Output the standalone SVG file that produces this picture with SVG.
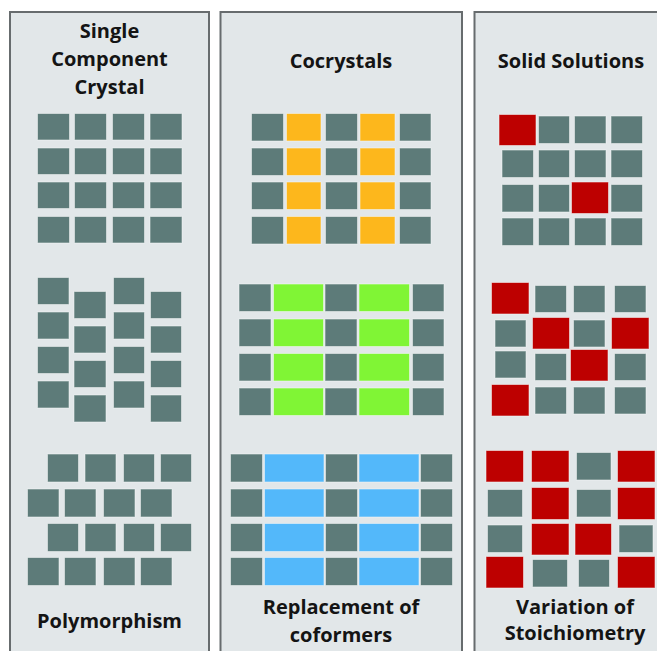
<svg xmlns="http://www.w3.org/2000/svg" width="657" height="651" viewBox="0 0 657 651">
  <style>
    .panel { fill: #e2e7e9; stroke: #676c6e; stroke-width: 2; }
    rect.c { stroke: #f3f5f5; stroke-opacity: 0.55; stroke-width: 1; }
    .g { fill: #5d7b79; }
    .y { fill: #fdb71c; }
    .gr { fill: #80f535; }
    .b { fill: #53b8fa; }
    .r { fill: #bd0000; stroke: #f0b0b0; }
    text { font-family: "Open Sans", "Liberation Sans", sans-serif; font-weight: bold; font-size: 20px; fill: #141414; text-anchor: middle; }
  </style>
  <rect width="657" height="651" fill="#ffffff"/>

  <!-- Single component crystal / polymorphism -->
  <g id="single-component">
    <rect class="panel" x="10" y="12" width="199" height="660"/>
    <text x="109.5" y="38">Single</text>
    <text x="109.5" y="66">Component</text>
    <text x="109.5" y="94">Crystal</text>
    <!-- regular lattice -->
    <g id="lattice-regular">
      <rect class="c g" x="37.5" y="113.5" width="32" height="26.5"/>
      <rect class="c g" x="74.5" y="113.5" width="32" height="26.5"/>
      <rect class="c g" x="112.5" y="113.5" width="32" height="26.5"/>
      <rect class="c g" x="150" y="113.5" width="32" height="26.5"/>
      <rect class="c g" x="37.5" y="148" width="32" height="26.5"/>
      <rect class="c g" x="74.5" y="148" width="32" height="26.5"/>
      <rect class="c g" x="112.5" y="148" width="32" height="26.5"/>
      <rect class="c g" x="150" y="148" width="32" height="26.5"/>
      <rect class="c g" x="37.5" y="182" width="32" height="26.5"/>
      <rect class="c g" x="74.5" y="182" width="32" height="26.5"/>
      <rect class="c g" x="112.5" y="182" width="32" height="26.5"/>
      <rect class="c g" x="150" y="182" width="32" height="26.5"/>
      <rect class="c g" x="37.5" y="216.5" width="32" height="26.5"/>
      <rect class="c g" x="74.5" y="216.5" width="32" height="26.5"/>
      <rect class="c g" x="112.5" y="216.5" width="32" height="26.5"/>
      <rect class="c g" x="150" y="216.5" width="32" height="26.5"/>
    </g>
    <!-- column-shifted lattice -->
    <g id="lattice-shifted-columns">
      <rect class="c g" x="37.5" y="277.5" width="31.5" height="27"/>
      <rect class="c g" x="37.5" y="312" width="31.5" height="27"/>
      <rect class="c g" x="37.5" y="346.5" width="31.5" height="27"/>
      <rect class="c g" x="37.5" y="381" width="31.5" height="27"/>
      <rect class="c g" x="74" y="291.5" width="32" height="27"/>
      <rect class="c g" x="74" y="326" width="32" height="27"/>
      <rect class="c g" x="74" y="360.5" width="32" height="27"/>
      <rect class="c g" x="74" y="395" width="32" height="27"/>
      <rect class="c g" x="113.5" y="277.5" width="31" height="27"/>
      <rect class="c g" x="113.5" y="312" width="31" height="27"/>
      <rect class="c g" x="113.5" y="346.5" width="31" height="27"/>
      <rect class="c g" x="113.5" y="381" width="31" height="27"/>
      <rect class="c g" x="150.5" y="291.5" width="31" height="27"/>
      <rect class="c g" x="150.5" y="326" width="31" height="27"/>
      <rect class="c g" x="150.5" y="360.5" width="31" height="27"/>
      <rect class="c g" x="150.5" y="395" width="31" height="27"/>
    </g>
    <!-- row-shifted lattice -->
    <g id="lattice-shifted-rows">
      <rect class="c g" x="47.5" y="454" width="31" height="28"/>
      <rect class="c g" x="85" y="454" width="31" height="28"/>
      <rect class="c g" x="123.5" y="454" width="31" height="28"/>
      <rect class="c g" x="160.5" y="454" width="31" height="28"/>
      <rect class="c g" x="27.5" y="489" width="31.5" height="28"/>
      <rect class="c g" x="64.5" y="489" width="31.5" height="28"/>
      <rect class="c g" x="103.5" y="489" width="31.5" height="28"/>
      <rect class="c g" x="140.5" y="489" width="31.5" height="28"/>
      <rect class="c g" x="47.5" y="523.5" width="31" height="28"/>
      <rect class="c g" x="85" y="523.5" width="31" height="28"/>
      <rect class="c g" x="123.5" y="523.5" width="31" height="28"/>
      <rect class="c g" x="160.5" y="523.5" width="31" height="28"/>
      <rect class="c g" x="27.5" y="557.5" width="31.5" height="28"/>
      <rect class="c g" x="64.5" y="557.5" width="31.5" height="28"/>
      <rect class="c g" x="103.5" y="557.5" width="31.5" height="28"/>
      <rect class="c g" x="140.5" y="557.5" width="31.5" height="28"/>
    </g>
    <text x="109.5" y="628">Polymorphism</text>
  </g>

  <!-- Cocrystals / replacement of coformers -->
  <g id="cocrystals">
    <rect class="panel" x="220.5" y="12" width="241.5" height="660"/>
    <text x="341" y="68">Cocrystals</text>
    <g id="cocrystal-yellow">
      <rect class="c g" x="251.5" y="113.5" width="32" height="27.5"/>
      <rect class="c y" x="286.5" y="113.5" width="34.5" height="27.5"/>
      <rect class="c g" x="325.5" y="113.5" width="32" height="27.5"/>
      <rect class="c y" x="360" y="113.5" width="35" height="27.5"/>
      <rect class="c g" x="399.5" y="113.5" width="31.5" height="27.5"/>
      <rect class="c g" x="251.5" y="148" width="32" height="27.5"/>
      <rect class="c y" x="286.5" y="148" width="34.5" height="27.5"/>
      <rect class="c g" x="325.5" y="148" width="32" height="27.5"/>
      <rect class="c y" x="360" y="148" width="35" height="27.5"/>
      <rect class="c g" x="399.5" y="148" width="31.5" height="27.5"/>
      <rect class="c g" x="251.5" y="182" width="32" height="27.5"/>
      <rect class="c y" x="286.5" y="182" width="34.5" height="27.5"/>
      <rect class="c g" x="325.5" y="182" width="32" height="27.5"/>
      <rect class="c y" x="360" y="182" width="35" height="27.5"/>
      <rect class="c g" x="399.5" y="182" width="31.5" height="27.5"/>
      <rect class="c g" x="251.5" y="216.5" width="32" height="27.5"/>
      <rect class="c y" x="286.5" y="216.5" width="34.5" height="27.5"/>
      <rect class="c g" x="325.5" y="216.5" width="32" height="27.5"/>
      <rect class="c y" x="360" y="216.5" width="35" height="27.5"/>
      <rect class="c g" x="399.5" y="216.5" width="31.5" height="27.5"/>
    </g>
    <g id="cocrystal-green">
      <rect class="c g" x="239" y="284" width="32" height="27.5"/>
      <rect class="c gr" x="273.5" y="284" width="50" height="27.5"/>
      <rect class="c g" x="325" y="284" width="32" height="27.5"/>
      <rect class="c gr" x="359" y="284" width="50.5" height="27.5"/>
      <rect class="c g" x="412.5" y="284" width="31.5" height="27.5"/>
      <rect class="c g" x="239" y="319" width="32" height="27.5"/>
      <rect class="c gr" x="273.5" y="319" width="50" height="27.5"/>
      <rect class="c g" x="325" y="319" width="32" height="27.5"/>
      <rect class="c gr" x="359" y="319" width="50.5" height="27.5"/>
      <rect class="c g" x="412.5" y="319" width="31.5" height="27.5"/>
      <rect class="c g" x="239" y="353.5" width="32" height="27.5"/>
      <rect class="c gr" x="273.5" y="353.5" width="50" height="27.5"/>
      <rect class="c g" x="325" y="353.5" width="32" height="27.5"/>
      <rect class="c gr" x="359" y="353.5" width="50.5" height="27.5"/>
      <rect class="c g" x="412.5" y="353.5" width="31.5" height="27.5"/>
      <rect class="c g" x="239" y="388" width="32" height="27.5"/>
      <rect class="c gr" x="273.5" y="388" width="50" height="27.5"/>
      <rect class="c g" x="325" y="388" width="32" height="27.5"/>
      <rect class="c gr" x="359" y="388" width="50.5" height="27.5"/>
      <rect class="c g" x="412.5" y="388" width="31.5" height="27.5"/>
    </g>
    <g id="cocrystal-blue">
      <rect class="c g" x="230.5" y="454" width="32" height="28"/>
      <rect class="c b" x="264.5" y="454" width="59.5" height="28"/>
      <rect class="c g" x="325.5" y="454" width="32" height="28"/>
      <rect class="c b" x="359" y="454" width="60" height="28"/>
      <rect class="c g" x="420.5" y="454" width="32" height="28"/>
      <rect class="c g" x="230.5" y="489" width="32" height="28"/>
      <rect class="c b" x="264.5" y="489" width="59.5" height="28"/>
      <rect class="c g" x="325.5" y="489" width="32" height="28"/>
      <rect class="c b" x="359" y="489" width="60" height="28"/>
      <rect class="c g" x="420.5" y="489" width="32" height="28"/>
      <rect class="c g" x="230.5" y="523.5" width="32" height="28"/>
      <rect class="c b" x="264.5" y="523.5" width="59.5" height="28"/>
      <rect class="c g" x="325.5" y="523.5" width="32" height="28"/>
      <rect class="c b" x="359" y="523.5" width="60" height="28"/>
      <rect class="c g" x="420.5" y="523.5" width="32" height="28"/>
      <rect class="c g" x="230.5" y="557.5" width="32" height="28"/>
      <rect class="c b" x="264.5" y="557.5" width="59.5" height="28"/>
      <rect class="c g" x="325.5" y="557.5" width="32" height="28"/>
      <rect class="c b" x="359" y="557.5" width="60" height="28"/>
      <rect class="c g" x="420.5" y="557.5" width="32" height="28"/>
    </g>
    <text x="341" y="614">Replacement of</text>
    <text x="341" y="642">coformers</text>
  </g>

  <!-- Solid solutions / variation of stoichiometry -->
  <g id="solid-solutions">
    <rect class="panel" x="474.5" y="12" width="220" height="660"/>
    <text x="571" y="68">Solid Solutions</text>
    <g id="solution-dilute">
      <rect class="c r" x="499" y="114.5" width="37" height="31"/>
      <rect class="c g" x="538.5" y="116" width="31" height="27.5"/>
      <rect class="c g" x="574.5" y="116" width="31.5" height="27.5"/>
      <rect class="c g" x="611" y="116" width="31.5" height="27.5"/>
      <rect class="c g" x="502" y="150" width="31.5" height="27.5"/>
      <rect class="c g" x="538.5" y="150" width="31" height="27.5"/>
      <rect class="c g" x="574.5" y="150" width="31.5" height="27.5"/>
      <rect class="c g" x="611" y="150" width="31.5" height="27.5"/>
      <rect class="c g" x="502" y="184.5" width="31.5" height="27.5"/>
      <rect class="c g" x="538.5" y="184.5" width="31" height="27.5"/>
      <rect class="c r" x="571.5" y="182" width="37" height="31.5"/>
      <rect class="c g" x="611" y="184.5" width="31.5" height="27.5"/>
      <rect class="c g" x="502" y="218" width="31.5" height="27.5"/>
      <rect class="c g" x="538.5" y="218" width="31" height="27.5"/>
      <rect class="c g" x="574.5" y="218" width="31.5" height="27.5"/>
      <rect class="c g" x="611" y="218" width="31.5" height="27.5"/>
    </g>
    <g id="solution-medium">
      <rect class="c r" x="491.5" y="282.5" width="37.5" height="31.5"/>
      <rect class="c g" x="535" y="285.5" width="31.5" height="27"/>
      <rect class="c g" x="573.5" y="285.5" width="31.5" height="27"/>
      <rect class="c g" x="614.5" y="285.5" width="31.5" height="27"/>
      <rect class="c g" x="495" y="320" width="31" height="27"/>
      <rect class="c r" x="532.5" y="317.5" width="37" height="31.5"/>
      <rect class="c g" x="573.5" y="320" width="31.5" height="27"/>
      <rect class="c r" x="611.5" y="317.5" width="37.5" height="31.5"/>
      <rect class="c g" x="495" y="351" width="31" height="27"/>
      <rect class="c g" x="535" y="353.5" width="31.5" height="27"/>
      <rect class="c r" x="570.5" y="349.5" width="37.5" height="31.5"/>
      <rect class="c g" x="614.5" y="353.5" width="31.5" height="27"/>
      <rect class="c r" x="491.5" y="384.5" width="37.5" height="31.5"/>
      <rect class="c g" x="535" y="387" width="31.5" height="27"/>
      <rect class="c g" x="573.5" y="387" width="31.5" height="27"/>
      <rect class="c g" x="614.5" y="387" width="31.5" height="27"/>
    </g>
    <g id="solution-rich">
      <rect class="c r" x="486" y="450.5" width="37.5" height="31.5"/>
      <rect class="c r" x="531.5" y="450.5" width="37.5" height="31.5"/>
      <rect class="c g" x="576.5" y="452.5" width="34.5" height="27.5"/>
      <rect class="c r" x="617.5" y="450.5" width="37.5" height="31.5"/>
      <rect class="c g" x="487.5" y="489.5" width="35" height="27.5"/>
      <rect class="c r" x="531.5" y="487.5" width="37.5" height="32"/>
      <rect class="c g" x="576.5" y="489.5" width="34.5" height="27.5"/>
      <rect class="c r" x="617.5" y="487.5" width="37.5" height="32"/>
      <rect class="c g" x="487.5" y="525" width="35" height="27.5"/>
      <rect class="c r" x="531.5" y="523.5" width="37.5" height="31.5"/>
      <rect class="c r" x="575" y="523.5" width="36.5" height="31.5"/>
      <rect class="c g" x="619" y="525" width="34" height="27.5"/>
      <rect class="c r" x="486" y="556.5" width="37.5" height="31.5"/>
      <rect class="c g" x="532.5" y="559.5" width="35" height="27.5"/>
      <rect class="c g" x="578.5" y="559.5" width="31" height="27.5"/>
      <rect class="c r" x="617.5" y="556.5" width="37.5" height="31.5"/>
    </g>
    <text x="575" y="614">Variation of</text>
    <text x="575" y="640">Stoichiometry</text>
  </g>
</svg>
